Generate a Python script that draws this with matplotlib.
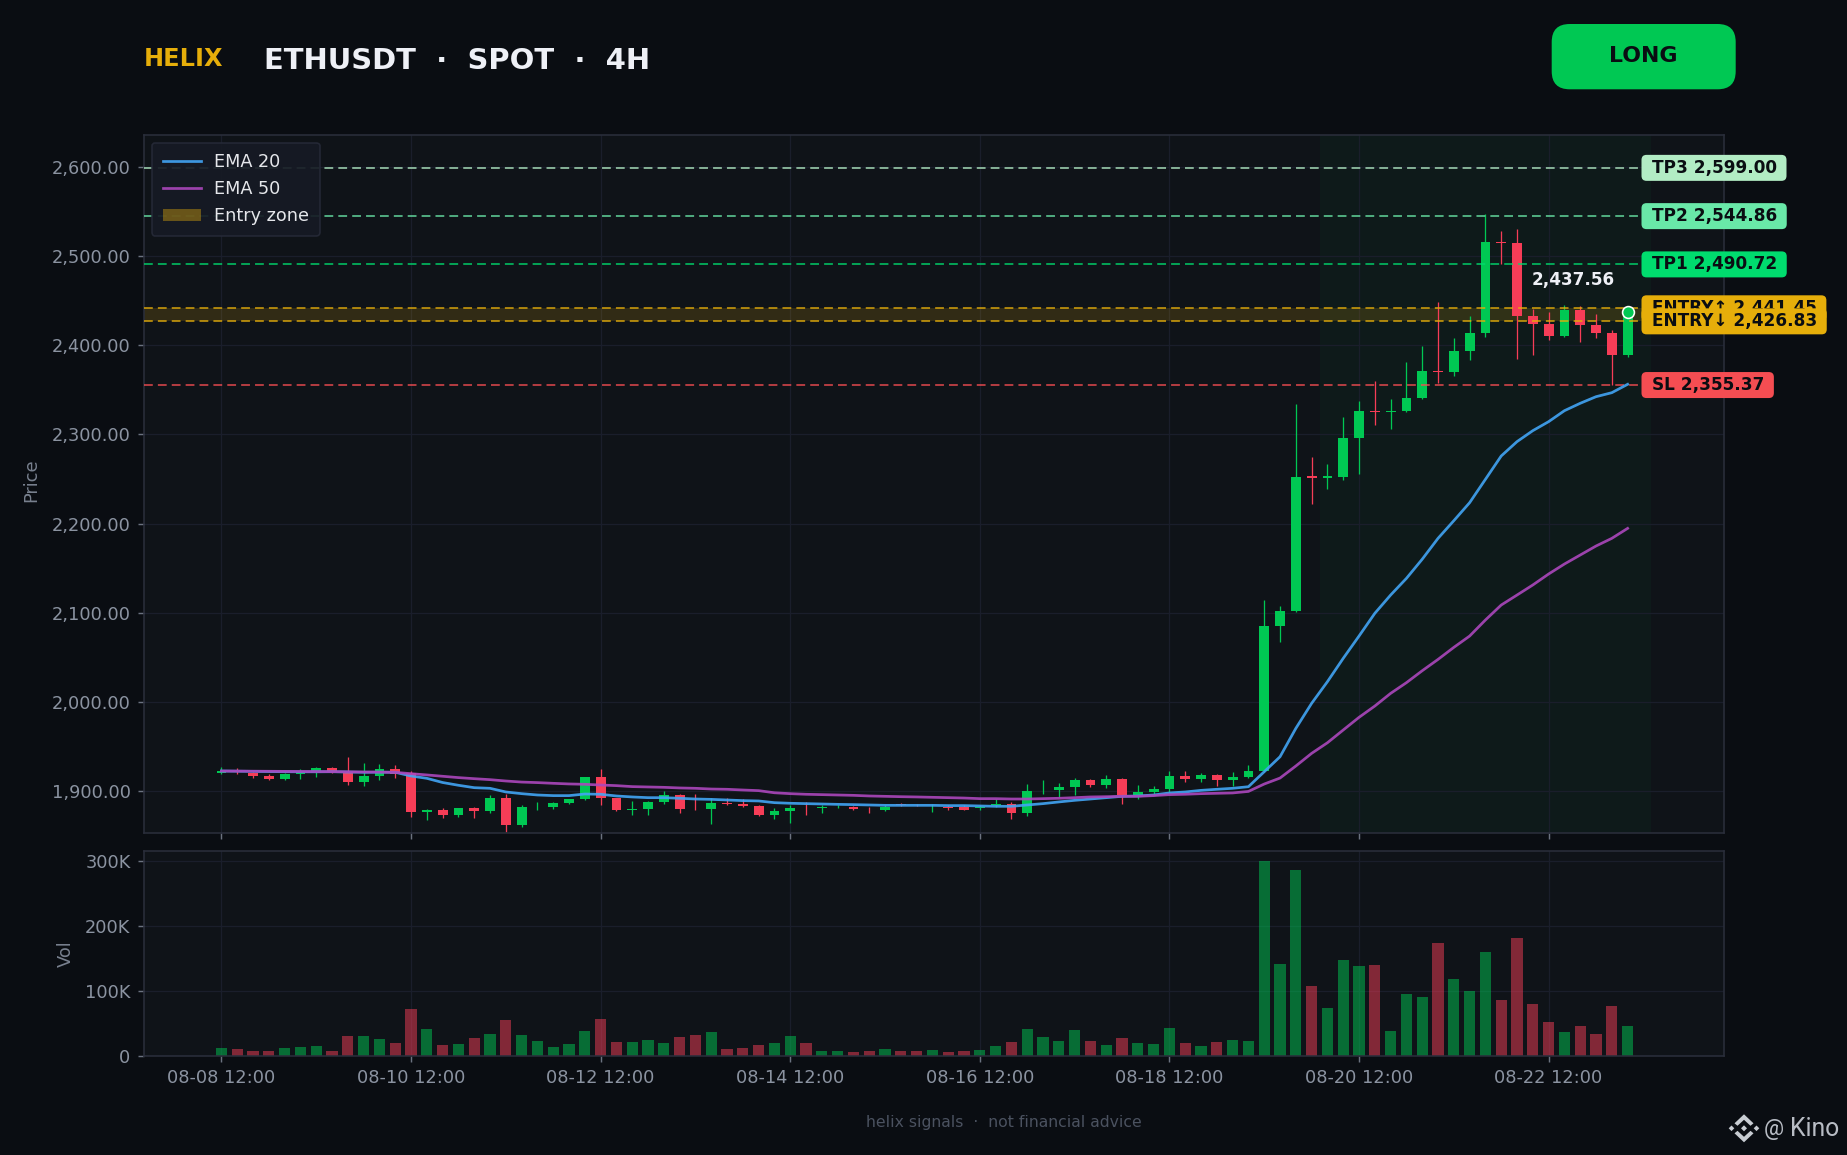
import matplotlib
matplotlib.use('Agg')
import matplotlib.pyplot as plt
import numpy as np
from matplotlib.patches import FancyBboxPatch, Patch, Polygon
from matplotlib.ticker import FuncFormatter
from matplotlib.transforms import IdentityTransform

W, H = 1847, 1155
DPI = 115

BG = '#0a0d12'
PANEL = '#0f1318'
SPINE = '#2a2e3b'
GRID = '#1a1e2b'
TICK = '#6b7280'
TICKTXT = '#8b93a1'
UP = '#00c853'
DOWN = '#f63d57'
GOLD = '#e6ae0a'

opens = [1920.6, 1922.8, 1919.8, 1917.2, 1913.5, 1919.5, 1920.6, 1925.8, 1921.7, 1910.1,
         1916.8, 1924.7, 1919.8, 1876.4, 1878.7, 1873.0, 1880.9, 1877.6, 1892.1, 1861.9,
         1882.0, 1882.0, 1886.5, 1891.0, 1915.7, 1892.1, 1879.0, 1879.8, 1887.7, 1895.5,
         1880.0, 1879.8, 1886.5, 1885.4, 1883.2, 1873.0, 1877.6, 1881.1, 1881.0, 1882.0,
         1882.0, 1880.3, 1879.0, 1885.0, 1884.2, 1883.3, 1882.4, 1881.5, 1881.3, 1884.0,
         1885.4, 1875.3, 1899.9, 1901.1, 1904.5, 1912.3, 1906.7, 1913.5, 1895.5, 1898.9,
         1902.2, 1916.8, 1913.5, 1918.0, 1912.3, 1915.7, 1922.4, 2085.0, 2101.9, 2252.8,
         2251.6, 2252.2, 2296.0, 2326.8, 2325.4, 2326.3, 2340.8, 2371.1, 2370.0, 2393.6,
         2413.8, 2515.9, 2514.8, 2432.8, 2423.9, 2410.4, 2439.6, 2422.8, 2413.8, 2389.1]
closes = [1922.8, 1921.3, 1916.8, 1913.5, 1919.0, 1921.5, 1925.8, 1921.7, 1910.1, 1916.8,
          1924.7, 1919.0, 1876.4, 1878.7, 1873.0, 1880.9, 1877.6, 1892.1, 1861.9, 1882.0,
          1882.1, 1886.5, 1891.0, 1915.7, 1892.1, 1878.7, 1879.8, 1887.7, 1895.5, 1879.8,
          1879.9, 1886.5, 1885.4, 1883.2, 1873.0, 1877.6, 1880.9, 1881.0, 1882.0, 1882.1,
          1879.8, 1879.4, 1882.4, 1884.3, 1884.0, 1883.4, 1881.3, 1878.7, 1882.4, 1885.4,
          1875.3, 1900.0, 1900.0, 1904.5, 1912.3, 1906.7, 1913.5, 1895.5, 1898.9, 1902.2,
          1916.8, 1913.5, 1918.0, 1912.3, 1915.7, 1922.4, 2085.0, 2101.9, 2252.2, 2251.6,
          2252.8, 2296.0, 2326.3, 2325.6, 2326.6, 2340.8, 2371.1, 2369.9, 2393.6, 2413.8,
          2515.9, 2514.8, 2432.8, 2423.9, 2410.4, 2439.6, 2422.8, 2413.4, 2389.1, 2437.56]
highs = [1926.9, 1925.8, 1921.0, 1919.0, 1920.0, 1924.7, 1927.3, 1926.9, 1938.1, 1931.4,
         1930.3, 1929.2, 1922.4, 1879.8, 1880.9, 1881.0, 1882.0, 1895.5, 1896.6, 1884.3,
         1887.7, 1887.7, 1891.5, 1916.0, 1924.7, 1892.5, 1888.8, 1888.5, 1900.0, 1896.6,
         1896.6, 1892.1, 1892.1, 1891.0, 1884.0, 1880.9, 1884.3, 1887.7, 1884.0, 1884.0,
         1883.5, 1882.0, 1884.0, 1886.5, 1885.0, 1885.0, 1884.0, 1884.0, 1884.0, 1890.6,
         1887.7, 1907.9, 1912.3, 1909.0, 1914.6, 1913.5, 1918.0, 1914.6, 1906.7, 1905.6,
         1922.4, 1922.4, 1920.2, 1919.0, 1921.3, 1929.2, 2114.0, 2107.5, 2334.0, 2274.6,
         2266.8, 2319.5, 2337.5, 2360.0, 2339.7, 2381.0, 2399.2, 2448.6, 2408.2, 2432.8,
         2547.3, 2528.2, 2530.5, 2440.7, 2437.3, 2445.2, 2443.7, 2435.1, 2417.1, 2440.0]
lows = [1918.6, 1919.1, 1914.6, 1912.3, 1912.7, 1913.5, 1915.7, 1920.6, 1906.7, 1905.6,
        1912.3, 1914.6, 1870.8, 1867.5, 1869.7, 1870.8, 1869.7, 1875.3, 1854.0, 1859.6,
        1878.7, 1879.8, 1885.4, 1889.9, 1884.3, 1877.6, 1873.0, 1873.0, 1885.4, 1875.3,
        1878.7, 1863.0, 1884.3, 1882.0, 1872.0, 1868.6, 1864.1, 1873.0, 1875.3, 1881.0,
        1879.0, 1875.3, 1877.6, 1883.0, 1883.0, 1876.4, 1878.7, 1878.7, 1878.7, 1882.4,
        1868.6, 1872.0, 1896.6, 1893.3, 1895.5, 1904.5, 1903.4, 1885.4, 1891.0, 1896.6,
        1898.9, 1910.1, 1910.0, 1905.6, 1905.6, 1914.6, 1921.0, 2067.0, 2101.0, 2222.0,
        2238.8, 2248.8, 2255.6, 2310.5, 2306.0, 2325.0, 2340.0, 2357.7, 2365.5, 2383.5,
        2409.3, 2491.2, 2384.6, 2389.1, 2406.0, 2409.3, 2403.7, 2408.2, 2355.4, 2386.9]
volumes_k = [11.8, 10.3, 7.2, 7.2, 11.8, 13.4, 14.9, 7.2, 30.3, 30.3,
             25.7, 19.5, 71.9, 41.0, 16.4, 18.0, 27.2, 33.4, 55.0, 31.8,
             22.6, 13.4, 18.0, 38.0, 56.5, 21.0, 21.0, 24.0, 19.5, 28.8,
             31.8, 36.5, 10.3, 11.8, 16.4, 19.5, 30.3, 19.5, 7.2, 7.2,
             5.6, 7.2, 10.3, 7.2, 7.2, 8.7, 5.6, 7.2, 8.7, 14.9,
             21.0, 41.0, 28.8, 22.6, 39.5, 22.6, 16.4, 27.2, 19.5, 18.0,
             42.6, 19.5, 14.9, 21.0, 24.0, 22.6, 300.0, 141.2, 286.0, 107.3,
             73.4, 147.4, 138.2, 139.7, 38.0, 95.0, 90.4, 173.6, 118.1, 99.6,
             161.0, 85.8, 181.3, 79.6, 52.0, 36.5, 45.8, 33.4, 77.2, 47.0]
ema20 = [1922.4, 1922.2, 1922.0, 1921.8, 1921.6, 1921.5, 1921.5, 1921.6, 1921.3, 1921.0,
         1921.1, 1921.0, 1916.8, 1914.2, 1909.5, 1906.4, 1903.7, 1903.0, 1898.9, 1897.0,
         1895.5, 1894.8, 1894.8, 1896.6, 1896.3, 1894.4, 1893.3, 1892.5, 1892.5, 1891.8,
         1891.0, 1890.6, 1889.9, 1889.2, 1888.8, 1886.9, 1886.2, 1885.8, 1885.4, 1885.0,
         1884.7, 1884.3, 1883.9, 1883.9, 1883.9, 1883.9, 1883.6, 1883.6, 1883.2, 1882.8,
         1882.8, 1884.3, 1885.8, 1887.7, 1889.5, 1891.0, 1892.5, 1894.0, 1894.4, 1895.5,
         1897.8, 1898.9, 1900.7, 1901.9, 1903.0, 1904.8, 1921.6, 1938.4, 1970.2, 1998.3,
         2022.6, 2048.8, 2073.8, 2099.3, 2119.8, 2138.5, 2160.0, 2183.4, 2203.2, 2223.4,
         2249.6, 2275.8, 2291.9, 2304.2, 2314.3, 2326.6, 2334.9, 2342.3, 2346.8, 2356.2]
ema50 = [1922.4, 1922.3, 1922.2, 1922.1, 1922.0, 1921.9, 1921.8, 1921.7, 1921.5, 1921.3,
         1921.2, 1920.9, 1919.4, 1918.0, 1916.5, 1915.0, 1913.8, 1912.7, 1911.2, 1910.0,
         1909.4, 1908.6, 1907.9, 1907.5, 1906.7, 1906.0, 1904.9, 1904.5, 1904.1, 1903.4,
         1903.0, 1902.2, 1901.9, 1901.1, 1900.4, 1898.0, 1897.0, 1896.3, 1895.9, 1895.5,
         1895.1, 1894.4, 1894.0, 1893.6, 1893.3, 1892.9, 1892.5, 1892.1, 1891.4, 1891.4,
         1891.0, 1891.0, 1891.4, 1891.8, 1892.5, 1893.3, 1893.6, 1894.0, 1894.0, 1894.8,
         1895.9, 1896.3, 1897.0, 1897.4, 1897.8, 1899.5, 1907.8, 1914.5, 1928.0, 1942.2,
         1954.1, 1968.4, 1982.6, 1995.3, 2009.5, 2021.5, 2034.9, 2047.6, 2061.1, 2073.8,
         2091.8, 2108.6, 2119.8, 2131.1, 2143.4, 2154.6, 2164.7, 2174.8, 2183.4, 2194.6]

tick_idx = [0, 12, 24, 36, 48, 60, 72, 84]
tick_labels = ['08-08 12:00', '08-10 12:00', '08-12 12:00', '08-14 12:00',
               '08-16 12:00', '08-18 12:00', '08-20 12:00', '08-22 12:00']
price_ticks = [1900, 2000, 2100, 2200, 2300, 2400, 2500, 2600]
vol_ticks = [0, 100, 200, 300]

levels = [('TP3', 2599.00, '#b2ecc4'), ('TP2', 2544.86, '#69e8a8'), ('TP1', 2490.72, '#00dc6e'),
          ('ENTRY↑', 2441.45, GOLD), ('ENTRY↓', 2426.83, GOLD), ('SL', 2355.37, '#f54d52')]
last_price = 2437.56


def ax_box(left, top, right, bottom):
    return [left / W, 1 - bottom / H, (right - left) / W, (bottom - top) / H]


def style_axes(ax):
    ax.set_facecolor(PANEL)
    for s in ax.spines.values():
        s.set_color(SPINE)
        s.set_linewidth(1.0)
    ax.tick_params(colors=TICK, labelcolor=TICKTXT, labelsize=11.1, length=3.8, width=0.9, pad=4.6)
    ax.grid(True, color=GRID, linewidth=0.8)
    ax.set_axisbelow(True)
    ax.set_xlim(-4.9, 95.1)
    ax.set_xticks(tick_idx)


fig = plt.figure(figsize=(W / DPI, H / DPI), dpi=DPI, facecolor=BG)
ax = fig.add_axes(ax_box(144, 134.7, 1724, 832.7))
vax = fig.add_axes(ax_box(144, 851, 1724, 1056))
style_axes(ax)
style_axes(vax)

x = np.arange(len(opens))
o = np.array(opens)
c = np.array(closes)
colors = [UP if b >= a else DOWN for a, b in zip(opens, closes)]

# candles
ax.axvspan(69.5, 90.5, color=UP, alpha=0.045, lw=0, zorder=0.5)
wicks = ax.vlines(x, lows, highs, colors=colors, linewidth=0.8, zorder=2)
wicks.set_snap(True)
ax.bar(x, np.abs(c - o), bottom=np.minimum(o, c), width=0.62, color=colors, linewidth=0, zorder=3)
ax.plot(x, ema20, color='#42a5f5', lw=1.7, alpha=0.9, zorder=4, label='EMA 20')
ax.plot(x, ema50, color='#ab47bc', lw=1.7, alpha=0.9, zorder=4, label='EMA 50')
ax.axhspan(levels[4][1], levels[3][1], color=GOLD, alpha=0.16, lw=0, zorder=1.5)
for name, price, col in levels:
    ax.axhline(price, color=col, lw=1.1, ls=(0, (5, 2.9)), alpha=0.8, zorder=3.5)
ax.scatter([x[-1]], [last_price], s=55, color=UP, edgecolors='white', linewidths=1.0, zorder=6)

ax.set_ylim(1853.2, 2636.2)
ax.set_yticks(price_ticks)
ax.yaxis.set_major_formatter(FuncFormatter(lambda v, p: f'{v:,.2f}'))
ax.tick_params(labelbottom=False)
ax.set_ylabel('Price', color='#78808e', fontsize=11.2, labelpad=7)
ax.yaxis.label.set_y(0.505)

handles, names = ax.get_legend_handles_labels()
handles.append(Patch(facecolor=GOLD, alpha=0.4, lw=0))
names.append('Entry zone')
leg = ax.legend(handles, names, loc='upper left', fontsize=11, labelspacing=0.5, borderpad=0.62,
                handlelength=2.2, handletextpad=0.7, facecolor='#161a24', edgecolor='#262a38',
                framealpha=0.92, labelcolor='#e5e7eb', borderaxespad=0.45)
leg.set_zorder(10)

# volume
vax.bar(x, volumes_k, width=0.7, color=colors, alpha=0.5, linewidth=0, zorder=2)
vax.set_ylim(0, 316)
vax.set_yticks(vol_ticks)
vax.yaxis.set_major_formatter(FuncFormatter(lambda v, p: f'{v:.0f}K' if v else '0'))
vax.set_xticklabels(tick_labels)
vax.set_ylabel('Vol', color='#78808e', fontsize=11.2, labelpad=6.5)


def px_text(px, py, s, **kw):
    return fig.text(px / W, 1 - py / H, s, **kw)


px_text(144, 59, 'HELIX', color=GOLD, fontsize=15, fontweight='bold', va='center')
px_text(264, 61, 'ETHUSDT  ·  SPOT  ·  4H', color='#eef0f6', fontsize=18.15, fontweight='bold', va='center')
px_text(1004, 1122, 'helix signals  ·  not financial advice', color='#4b5260', fontsize=9.75, ha='center', va='center')

fig.add_artist(FancyBboxPatch((1551.7 + 14, H - 89.3 + 14), 184 - 28, 65.3 - 28, boxstyle='round,pad=14,rounding_size=18',
                              transform=IdentityTransform(), facecolor=UP, edgecolor='none', mutation_scale=1))
px_text(1643, 56.5, 'LONG', color=BG, fontsize=13.8, fontweight='bold', ha='center', va='center', zorder=5)

# labels stack upward so the lower ENTRY box covers the upper one
renderer = fig.canvas.get_renderer()
for k, (name, price, col) in enumerate(levels):
    py = ax.transData.transform((0, price))[1]
    t = fig.text(1651.5 / W, py / H, f'{name} {price:,.2f}', color=BG, fontsize=10.6, fontweight='bold',
                 va='center', zorder=5 + 0.2 * k + 0.1)
    bb = t.get_window_extent(renderer)
    fig.add_artist(FancyBboxPatch((1641.5 + 4, py - 13 + 4), bb.x1 - 1641.5 + 10 - 8, 18,
                                  boxstyle='round,pad=4,rounding_size=5', transform=IdentityTransform(),
                                  facecolor=col, edgecolor='none', mutation_scale=1, zorder=5 + 0.2 * k))
ax.annotate(f'{last_price:,.2f}', xy=(x[-1], last_price), xytext=(1531.6 / W, 1 - 280 / H), textcoords='figure fraction',
            color='#eef0f6', fontsize=10.5, fontweight='bold', va='center', zorder=7)

# binance style badge + handle
LOGO = '#c8ccd2'
cx, cy = 1744, H - 1128.3
chevron = [(0, 14), (9.5, 5), (6.5, 2.5), (0, 8.5), (-6.5, 2.5), (-9.5, 5)]
for sign in (1, -1):
    fig.add_artist(Polygon([(cx + a, cy + sign * b) for a, b in chevron], transform=IdentityTransform(),
                           facecolor=LOGO, edgecolor='none'))
for dx, r in [(-12.5, 2.8), (12.5, 2.8), (0, 3)]:
    fig.add_artist(Polygon([(cx + dx, cy + r), (cx + dx + r, cy), (cx + dx, cy - r), (cx + dx - r, cy)],
                           transform=IdentityTransform(), facecolor=LOGO, edgecolor='none'))
px_text(1764, 1129, '@', color='#b8bcc4', fontsize=14, family='Roboto', va='center')
px_text(1790, 1129, 'Kino', color='#b8bcc4', fontsize=15.5, family='Roboto', va='center')

fig.savefig('out.png', dpi=DPI, facecolor=BG)
